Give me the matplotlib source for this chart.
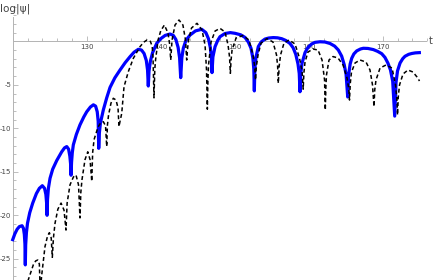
import matplotlib
matplotlib.use('Agg')
import matplotlib.pyplot as plt
from matplotlib.ticker import FixedLocator, MultipleLocator

plt.rcParams['axes.unicode_minus'] = False

# blue solid curve, log|psi|
blue_t = [120.0, 120.3, 120.6, 120.9, 121.26, 121.45, 121.57, 121.65, 121.7,
          121.75, 121.85, 122.0, 122.3, 122.7, 123.2, 123.6, 124.0, 124.3, 124.48, 124.58, 124.64,
          124.7, 124.82, 125.04, 125.4, 125.95, 126.62, 127.0, 127.3, 127.55, 127.72, 127.82, 127.88,
          127.95, 128.05, 128.19, 128.6, 129.09, 129.6, 130.0, 130.5, 130.9, 131.2, 131.42, 131.55, 131.62,
          131.7, 131.85, 132.24, 132.7, 133.15, 133.8, 134.5, 135.2, 135.85, 136.4, 136.97, 137.4,
          137.75, 138.05, 138.22, 138.32,
          138.42, 138.6, 138.9, 139.46, 140.0, 140.6, 141.26, 141.7, 142.05, 142.35, 142.55, 142.7,
          142.85, 143.05, 143.4, 143.96, 144.7, 145.54, 146.1, 146.45, 146.7, 146.85, 146.93,
          147.05, 147.34, 147.7, 148.01, 148.69, 149.4, 150.04, 150.8, 151.39, 151.85, 152.2, 152.45,
          152.58, 152.65,
          152.72, 152.86, 153.19, 153.6, 154.09, 154.6, 155.22, 155.8, 156.35, 156.9, 157.47, 157.9,
          158.25, 158.55, 158.72, 158.82,
          158.92, 159.1, 159.5, 159.9, 160.4, 160.85, 161.53, 162.2, 162.88, 163.5, 164.0, 164.45,
          164.8, 165.05, 165.27,
          165.4, 165.6, 165.81, 166.1, 166.49, 167.0, 167.38, 168.0, 168.73, 169.3, 169.86, 170.3,
          170.7, 171.05, 171.35, 171.62,
          171.8, 172.0, 172.34, 172.7, 173.01, 173.5, 173.92, 174.4, 174.95]
blue_y = [-22.8, -22.1, -21.6, -21.3, -21.2, -21.5, -22.2, -23.3, -25.7,
          -23.4, -22.0, -20.9, -19.7, -18.6, -17.5, -16.9, -16.6, -16.9, -17.6, -18.6, -20.0,
          -18.2, -16.9, -15.75, -14.7, -13.7, -12.7, -12.25, -12.1, -12.4, -13.2, -14.1, -15.4,
          -13.9, -12.8, -11.9, -10.7, -9.6, -8.7, -8.1, -7.55, -7.3, -7.45, -8.1, -9.2, -12.3,
          -10.6, -9.4, -7.9, -6.5, -5.3, -4.2, -3.3, -2.45, -1.77, -1.25, -0.92, -1.0,
          -1.4, -2.2, -3.3, -5.14,
          -3.4, -2.3, -1.3, -0.23, 0.3, 0.68, 0.84, 0.68, 0.2, -0.7, -1.9, -4.18,
          -1.9, -0.8, 0.1, 0.72, 1.2, 1.38, 1.0, 0.3, -0.7, -1.9, -3.6,
          -1.8, -0.62, 0.1, 0.53, 0.9, 1.0, 0.92, 0.75, 0.45, -0.1, -0.8, -1.9,
          -3.2, -5.7,
          -3.2, -1.9, -0.6, -0.05, 0.26, 0.38, 0.43, 0.4, 0.3, 0.1, -0.25, -0.75,
          -1.5, -2.6, -3.7, -5.8,
          -3.7, -2.5, -1.3, -0.7, -0.3, -0.12, -0.05, -0.08, -0.25, -0.55, -1.0, -1.7,
          -2.7, -3.8, -6.4,
          -3.8, -2.6, -1.95, -1.45, -1.1, -0.88, -0.8, -0.82, -0.95, -1.15, -1.42, -1.85,
          -2.5, -3.3, -4.6, -8.6,
          -4.7, -3.4, -2.5, -2.0, -1.72, -1.5, -1.4, -1.33, -1.3]

# black dashed curve
black_t = [121.6, 122.11, 122.78, 123.1, 123.38, 123.6, 123.72,
           123.9, 124.36, 124.7, 124.95, 125.2, 125.35,
           125.5, 125.72, 126.1, 126.53, 126.93, 127.2,
           127.35, 127.74, 128.2, 128.55, 128.89, 129.09,
           129.2, 129.36, 129.77, 130.14, 130.45, 130.68,
           130.8, 130.99, 131.53, 131.9, 132.24, 132.54, 132.7,
           132.8, 132.95, 133.28, 133.59, 133.96, 134.23, 134.36,
           134.5, 134.73, 135.04, 135.62, 136.3, 137.2, 137.7, 138.15, 138.6, 138.85, 138.96, 139.09,
           139.2, 139.3, 139.64, 140.0, 140.49, 140.99, 141.2, 141.35,
           141.45, 141.53, 141.93, 142.47, 143.0, 143.35, 143.51,
           143.62, 143.76, 144.16, 144.9, 145.58, 145.99, 146.19, 146.3,
           146.38, 146.46, 146.8, 147.34, 148.01, 148.69, 149.1, 149.3, 149.41,
           149.5, 149.64, 150.18, 151.12, 151.92, 152.47, 152.7, 152.81,
           152.92, 153.15, 153.55, 154.36, 155.17, 155.65, 155.8, 155.89,
           156.0, 156.19, 156.66, 157.34, 158.15, 158.75, 159.1, 159.25,
           159.35, 159.5, 159.9, 160.58, 161.26, 161.8, 162.14, 162.24,
           162.32, 162.4, 162.74, 163.28, 163.96, 164.64, 165.18, 165.4, 165.51,
           165.62, 165.78, 166.26, 166.93, 167.74, 168.28, 168.62, 168.82,
           168.92, 169.09, 169.64, 170.45, 171.26, 171.73, 171.9, 172.0,
           172.1, 172.27, 172.74, 173.41, 174.09, 174.63, 174.97]
black_y = [-29.0, -27.4, -25.7, -25.25, -25.14, -25.6, -29.0,
           -27.0, -23.6, -22.4, -22.0, -22.6, -24.83,
           -22.6, -20.9, -19.3, -18.6, -19.4, -21.7,
           -18.6, -16.5, -15.6, -15.37, -16.5, -20.3,
           -17.4, -15.9, -13.6, -12.7, -13.6, -16.1,
           -12.8, -11.3, -9.85, -9.35, -9.24, -9.7, -12.1,
           -9.6, -8.47, -7.1, -6.55, -6.75, -7.67, -9.8,
           -9.2, -8.28, -5.22, -3.49, -1.95, -0.62, -0.1, 0.15, 0.0, -0.6, -1.9, -6.5,
           -3.2, -2.15, 0.15, 1.2, 1.87, 0.95, -0.3, -2.15,
           -0.9, 0.15, 1.87, 2.45, 1.87, 0.15, -2.15,
           -0.9, 0.15, 1.53, 2.07, 1.3, -0.43, -3.3, -7.8,
           -4.4, -2.72, -0.08, 1.18, 1.49, 1.07, -0.43, -1.8, -3.68,
           -2.2, -1.0, 0.38, 0.67, 0.15, -1.57, -2.9, -4.45,
           -2.9, -1.57, -0.2, 0.32, -0.08, -1.57, -2.9, -4.83,
           -2.9, -1.57, -0.2, 0.15, -0.31, -1.92, -3.4, -5.5,
           -3.6, -2.38, -1.23, -0.89, -1.0, -2.15, -4.45, -7.9,
           -5.2, -3.87, -2.15, -1.75, -1.92, -2.72, -4.22, -5.4, -6.75,
           -4.8, -3.53, -2.49, -2.15, -2.38, -3.3, -5.02, -7.52,
           -5.6, -4.45, -3.07, -2.72, -3.07, -5.02, -6.5, -8.47,
           -6.4, -5.02, -3.76, -3.3, -3.53, -4.1, -4.56]

x_ticks = [130, 140, 150, 160, 170]
y_ticks = [-25, -20, -15, -10, -5]

fig = plt.figure(figsize=(4.36, 2.8), dpi=100)
ax = fig.add_axes([0, 0, 1, 1])
ax.set_xlim(118.28, 177.2)
ax.set_ylim(-27.44, 4.75)

ax.plot(blue_t, blue_y, color='#0000ff', lw=2.3, solid_joinstyle='round', zorder=3)
ax.plot(black_t, black_y, color='black', lw=1.1, linestyle=(0, (2.6, 1.8)), zorder=4)

axis_col = '#b3b3b3'
for side in ['top', 'right']:
    ax.spines[side].set_visible(False)
ax.spines['bottom'].set_position(('data', 0))
ax.spines['left'].set_position(('data', 120))
ax.spines['bottom'].set_bounds(120, 175.8)
ax.spines['left'].set_bounds(-27.44, 2.8)
for side in ['bottom', 'left']:
    ax.spines[side].set_color(axis_col)
    ax.spines[side].set_linewidth(0.7)

ax.xaxis.set_major_locator(FixedLocator(x_ticks))
ax.xaxis.set_minor_locator(MultipleLocator(2))
ax.yaxis.set_major_locator(FixedLocator(y_ticks))
ax.yaxis.set_minor_locator(MultipleLocator(1))
ax.tick_params(which='both', direction='in', colors=axis_col, labelcolor='#444444',
               labelsize=5, width=0.6)
ax.tick_params(which='major', length=3.5)
ax.tick_params(which='minor', length=2)
ax.tick_params(axis='x', pad=2)
ax.tick_params(axis='y', pad=1)
ax.set_xticklabels([str(v) for v in x_ticks])
ax.set_yticklabels([str(v) for v in y_ticks])

ax.text(0.0, 0.97, 'log|ψ|', transform=ax.transAxes, ha='left', va='center',
        fontsize=7.5, color='#444444')
ax.text(0.993, 0.853, 't', transform=ax.transAxes, ha='right', va='center',
        fontsize=7, color='#444444')

fig.savefig('out.png', dpi=100)
